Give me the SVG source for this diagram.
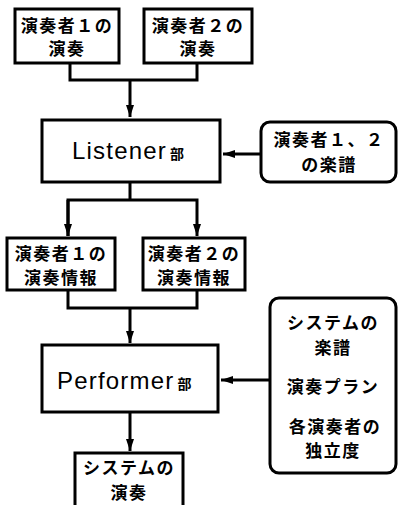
<svg xmlns="http://www.w3.org/2000/svg" width="398" height="505" viewBox="0 0 398 505">
<defs>
<style>
.box{fill:#fff;stroke:#000;stroke-width:3}
.ln{fill:none;stroke:#000;stroke-width:3}
.jp{font-family:"Noto Sans CJK JP","Liberation Sans",sans-serif;font-weight:bold;font-size:17px;letter-spacing:1.5px;text-anchor:middle;fill:#000}
.en{font-family:"Liberation Sans",Arial,sans-serif;font-size:24px;letter-spacing:1.2px;fill:#000}
.bu{font-family:"Noto Sans CJK JP",sans-serif;font-weight:bold;font-size:14px;fill:#000}
</style>
<marker id="ah" viewBox="0 0 12 8" refX="12" refY="4" markerWidth="12" markerHeight="8" markerUnits="userSpaceOnUse" orient="auto">
<path d="M0,0 L12,4 L0,8 Z" fill="#000"/>
</marker>
</defs>
<g id="connectors">
<path class="ln" d="M70,63 V80 H197 V63"/>
<path class="ln" d="M130,80 V117" marker-end="url(#ah)"/>
<path class="ln" d="M260,154 H223" marker-end="url(#ah)"/>
<path class="ln" d="M130,182 V200"/>
<path class="ln" d="M68,236 V200 H197 V236" marker-end="url(#ah)"/>
<path class="ln" d="M68,200 V236" marker-end="url(#ah)"/>
<path class="ln" d="M68,290 V308 H197 V290"/>
<path class="ln" d="M130,308 V343" marker-end="url(#ah)"/>
<path class="ln" d="M270,380 H221" marker-end="url(#ah)"/>
<path class="ln" d="M130,412 V451" marker-end="url(#ah)"/>
</g>
<g id="n1">
<rect class="box" x="15" y="9" width="104" height="54"/>
<text class="jp" x="67" y="32">演奏者１の</text>
<text class="jp" x="67" y="55">演奏</text>
</g>
<g id="n2">
<rect class="box" x="144" y="9" width="108" height="54"/>
<text class="jp" x="198" y="32">演奏者２の</text>
<text class="jp" x="198" y="55">演奏</text>
</g>
<g id="listener">
<rect class="box" x="42" y="120" width="178" height="62"/>
<text x="72" y="159"><tspan class="en">Listener</tspan><tspan class="bu" dx="3">部</tspan></text>
</g>
<g id="score12">
<rect class="box" x="261" y="122" width="135" height="60" rx="9"/>
<text class="jp" x="329" y="146">演奏者１、２</text>
<text class="jp" x="329" y="171">の楽譜</text>
</g>
<g id="info1">
<rect class="box" x="7" y="238" width="108" height="52"/>
<text class="jp" x="61" y="260">演奏者１の</text>
<text class="jp" x="61" y="284">演奏情報</text>
</g>
<g id="info2">
<rect class="box" x="143" y="238" width="102" height="52"/>
<text class="jp" x="194" y="260">演奏者２の</text>
<text class="jp" x="194" y="284">演奏情報</text>
</g>
<g id="performer">
<rect class="box" x="42" y="345" width="176" height="67"/>
<text x="57" y="389"><tspan class="en">Performer</tspan><tspan class="bu" dx="3">部</tspan></text>
</g>
<g id="params">
<rect class="box" x="270" y="298" width="126" height="175" rx="9"/>
<text class="jp" x="333" y="329">システムの</text>
<text class="jp" x="333" y="354">楽譜</text>
<text class="jp" x="333" y="393">演奏プラン</text>
<text class="jp" x="335" y="433">各演奏者の</text>
<text class="jp" x="333" y="457">独立度</text>
</g>
<g id="sysperf">
<rect class="box" x="75" y="453" width="108" height="60"/>
<text class="jp" x="129" y="474">システムの</text>
<text class="jp" x="129" y="499">演奏</text>
</g>
</svg>
